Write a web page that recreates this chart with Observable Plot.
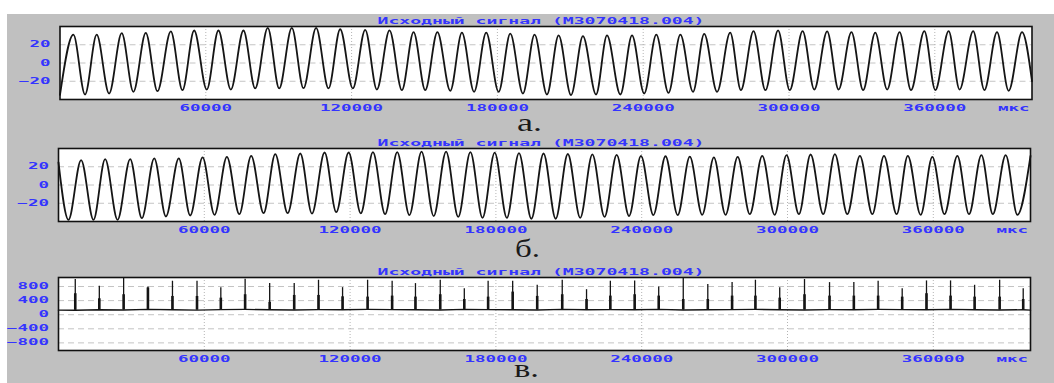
<!DOCTYPE html>
<html><head><meta charset="utf-8">
<script src="https://cdn.jsdelivr.net/npm/d3@7"></script>
<script src="https://cdn.jsdelivr.net/npm/@observablehq/plot@0.6"></script>
<style>
html,body{margin:0;padding:0;background:#fff;}
#wrap{position:absolute;left:7px;top:14px;width:1047px;height:369px;background:#c0c0c0;overflow:hidden;}
#wrap svg{position:absolute;left:0;}
</style></head><body><div id="wrap"></div>
<script>
// ---- text ----
const title = "Исходный сигнал (M3070418.004)";
const unit = "мкс";
const letters = ["а.", "б.", "в."];
// ---- axes ----
const xDomain = [0, 400000];
const xTicks = [60000, 120000, 180000, 240000, 300000, 360000];
const ySineDomain = [-40, 40];
const ySineTicks = [-20, 0, 20];
const ySpikeDomain = [-1016, 1056];
const ySpikeTicks = [-800, -400, 0, 400, 800];

// ---- panel а: extrema of the signal (time µs, value) ----
const aTroughT = [0, 10300, 20200, 30200, 40100, 50400, 60400, 70300, 80300, 90200, 100200, 110500, 120500, 130400, 140700, 150300, 160600, 170400, 180500, 190500, 200400, 210300, 220600, 230600, 240400, 250400, 260500, 270400, 280200, 290300, 300300, 310400, 320400, 330500, 340400, 350200, 360200, 370200, 380400, 390400];
const aTroughV = [-35, -34.5, -33.4, -31.6, -30.9, -29.8, -29.1, -29.1, -27.9, -27.9, -27.6, -27.9, -27.9, -29.1, -29.8, -29.8, -30.5, -31.6, -31.6, -33.4, -34.5, -35.2, -34.5, -34.5, -33.4, -32.7, -31.6, -31.6, -29.8, -29.8, -29.8, -29.1, -29.1, -29.8, -29.1, -29.8, -29.8, -29.1, -29.8, -30.5];
const aPeakT = [5500, 15100, 25400, 35300, 45600, 55200, 65200, 75500, 85500, 95400, 105400, 115300, 125600, 135600, 145500, 155300, 165400, 175400, 185300, 195300, 205200, 215200, 225100, 235400, 245400, 255300, 265100, 275800, 285400, 295500, 305600, 315700, 325700, 335500, 345500, 355700, 365700, 375800, 385600, 395900];
const aPeakV = [31, 31, 32.7, 33, 34.6, 35.6, 35.6, 35.6, 38.5, 38.5, 38.5, 37, 36.4, 35.7, 33.8, 33.8, 33.2, 33.2, 32.1, 31, 30.2, 29.4, 30.2, 30.2, 31, 31, 32, 33.2, 34.9, 35.7, 34.9, 34.6, 33.8, 33.2, 33.8, 34.9, 34.9, 34.9, 33.8, 33.8];
const aEnds = [[400000, -20]];

// ---- panel б ----
const bTroughT = [4100, 14400, 24300, 34300, 44200, 54200, 64200, 74400, 84400, 94300, 104300, 114300, 124400, 134400, 144400, 154400, 164500, 174500, 184500, 194600, 204600, 214700, 224700, 234800, 244800, 254800, 264900, 274500, 284500, 294700, 304700, 314700, 324600, 334900, 344900, 354800, 364600, 374700, 384500, 394600];
const bTroughV = [-38.2, -38.2, -38.2, -36.4, -34.5, -33.4, -32.7, -32, -30.9, -30.9, -31.3, -29.8, -31, -32, -33, -34, -35, -36, -36, -37, -37, -36, -35, -34, -33, -33, -32.7, -32.7, -32, -32.7, -32, -32, -32, -32, -32, -32.7, -32, -32, -32, -32.7];
const bPeakT = [9300, 19200, 29500, 39400, 49500, 59300, 69300, 79300, 89200, 99500, 109500, 119400, 129400, 139400, 149400, 159500, 169500, 179500, 189500, 199600, 209600, 219700, 229700, 239700, 249800, 259800, 269700, 279500, 289600, 299600, 309500, 319500, 329800, 339700, 349500, 359600, 369900, 379800, 389800];
const bPeakV = [27.3, 28.4, 28.4, 29.1, 29.1, 30.2, 30.9, 32, 33.8, 34.5, 35.6, 35.6, 36, 36, 36.5, 36.5, 36, 35.5, 35, 34.5, 34, 33.5, 33, 32, 31.5, 31, 30.2, 30.9, 32, 32.7, 33.4, 33.8, 32, 32, 32, 30.9, 32, 32.7, 32.7];
const bEnds = [[0, 24.8], [400000, 32]];

// ---- panel в: pulses ----
const vT = [6900, 16800, 26800, 36800, 46900, 57000, 66800, 76800, 86900, 97000, 107000, 116900, 127200, 137300, 146900, 157100, 167000, 176800, 186900, 197000, 207300, 217300, 227100, 237100, 247000, 257100, 267200, 277200, 286800, 296800, 307000, 317300, 327300, 337300, 347200, 357200, 367100, 377000, 387300, 397000];
const vPeak = [1000, 806, 1027, 786, 950, 950, 768, 1007, 883, 883, 978, 768, 978, 950, 883, 978, 739, 950, 950, 835, 978, 710, 950, 959, 787, 1045, 854, 911, 978, 768, 998, 911, 911, 950, 739, 959, 959, 835, 978, 739];
const vSec = [596, 452, 567, 760, 518, 518, 470, 567, 354, 547, 547, 508, 500, 528, 500, 567, 432, 499, 642, 520, 567, 432, 528, 567, 528, 432, 432, 528, 528, 470, 567, 528, 528, 528, 499, 596, 528, 499, 499, 432];
const vBaseT = [0, ...vT, 400000];
const vBase = [130, 125, 140, 135, 150, 140, 130, 145, 150, 140, 135, 145, 140, 150, 145, 140, 135, 150, 145, 140, 135, 150, 140, 145, 140, 150, 135, 140, 145, 150, 140, 135, 145, 140, 150, 145, 140, 150, 140, 135, 140, 130];

// ---- build ----
const BLUE = "#3434ff";
const LINE = "#151515";
function extrema(tT, tV, pT, pV, ends) {
  const pts = [];
  tT.forEach((t, i) => pts.push({t, v: tV[i]}));
  pT.forEach((t, i) => pts.push({t, v: pV[i]}));
  ends.forEach(([t, v]) => pts.push({t, v}));
  return pts.sort((a, b) => a.t - b.t);
}
const aData = extrema(aTroughT, aTroughV, aPeakT, aPeakV, aEnds);
const bData = extrema(bTroughT, bTroughV, bPeakT, bPeakV, bEnds);
const baseData = vBaseT.map((t, i) => ({t, v: vBase[i]}));
const pulses = vT.map((t, i) => ({t, peak: vPeak[i], sec: vSec[i], base: vBase[i + 1]}));

function panel(o) {
  const svg = Plot.plot({
    width: 1047, height: o.height,
    marginTop: 12, marginBottom: o.height - 12 - 73,
    marginLeft: o.ml, marginRight: o.mr,
    style: {background: "transparent", overflow: "visible", color: BLUE,
            fontFamily: "'DejaVu Sans Mono', monospace", fontSize: "8px", fontWeight: "bold"},
    x: {domain: xDomain, label: null},
    y: {domain: o.yDomain, label: null},
    marks: [
      Plot.frame({fill: "white", stroke: "none"}),
      Plot.gridY(o.yTicks, {stroke: "#c4c4c4", strokeOpacity: 1, strokeDasharray: "6,4"}),
      Plot.gridX(xTicks, {stroke: "#b4b4b4", strokeOpacity: 1, strokeDasharray: "1,2"}),
      ...o.marks,
      Plot.frame({stroke: "#111", strokeWidth: 1.6}),
      Plot.axisY(o.yTicks, {tickSize: 0, tickPadding: 9.5, fill: BLUE, label: null}),
      Plot.axisX(xTicks, {tickSize: 0, tickPadding: 6, tickFormat: d3.format("d"), fill: BLUE, label: null}),
      Plot.text([title], {frameAnchor: "top", lineAnchor: "middle", dy: -5, dx: o.titleDx, fill: BLUE}),
      Plot.text([unit], {frameAnchor: "bottom-right", lineAnchor: "top", textAnchor: "end", dy: 6, dx: -2.5, fill: BLUE}),
      Plot.text([o.letter], {frameAnchor: "bottom", lineAnchor: "middle", dy: o.letterDy, dx: o.letterDx,
        fontFamily: "'Liberation Serif', serif", fontSize: 26, fontWeight: "normal", fill: "#1a1a1a"})
    ]
  });
  svg.style.top = o.top + "px";
  svg.querySelectorAll("text").forEach(el => {
    const s = el.textContent;
    let len;
    if (letters.includes(s)) len = 25;
    else if (s === title) len = s.length * 10.9;
    else len = s.length * 10.5;
    el.setAttribute("textLength", len);
    el.setAttribute("lengthAdjust", "spacingAndGlyphs");
  });
  document.getElementById("wrap").appendChild(svg);
}

panel({top: 0, height: 122, ml: 52.5, mr: 22.5, yDomain: ySineDomain, yTicks: ySineTicks,
  titleDx: -5, letter: letters[0], letterDx: -16.5, letterDy: 22.7,
  marks: [Plot.line(aData, {x: "t", y: "v", curve: "monotone-x", stroke: LINE, strokeWidth: 1.8})]});
panel({top: 122, height: 129, ml: 51, mr: 24, yDomain: ySineDomain, yTicks: ySineTicks,
  titleDx: -3.5, letter: letters[1], letterDx: -17, letterDy: 26.7,
  marks: [Plot.line(bData, {x: "t", y: "v", curve: "monotone-x", stroke: LINE, strokeWidth: 1.8})]});
panel({top: 251, height: 118, ml: 51, mr: 24, yDomain: ySpikeDomain, yTicks: ySpikeTicks,
  titleDx: -3.5, letter: letters[2], letterDx: -18, letterDy: 18.5,
  marks: [
    Plot.line(baseData, {x: "t", y: "v", stroke: LINE, strokeWidth: 1.4}),
    Plot.ruleX(pulses, {x: "t", y1: "base", y2: "sec", stroke: LINE, strokeWidth: 2.6}),
    Plot.ruleX(pulses, {x: "t", y1: "base", y2: "peak", stroke: LINE, strokeWidth: 1.3})
  ]});
</script></body></html>
